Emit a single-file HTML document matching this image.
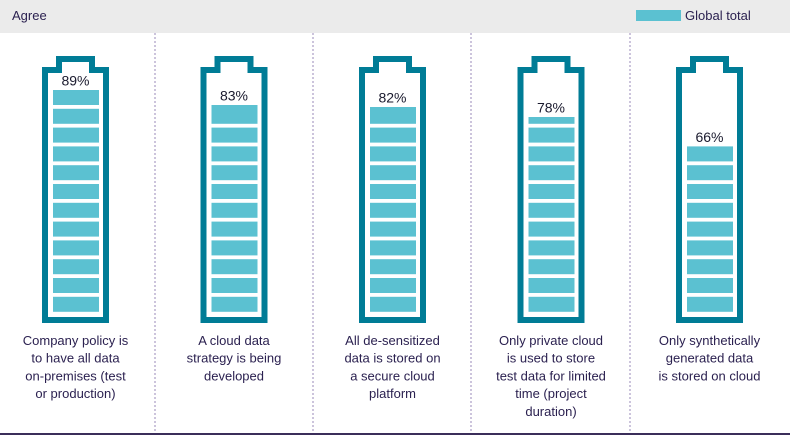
<!DOCTYPE html>
<html><head><meta charset="utf-8"><style>
html,body{margin:0;padding:0;background:#fff;}
body{width:790px;height:435px;overflow:hidden;position:relative;font-family:"Liberation Sans",sans-serif;}
</style></head><body>
<svg id="s" width="790" height="435" xmlns="http://www.w3.org/2000/svg" style="position:absolute;left:0;top:0">
<rect x="0" y="0" width="790" height="33" fill="#ebebeb"/>
<text x="12" y="20" font-size="13" fill="#2b2150" font-family="Liberation Sans, sans-serif">Agree</text>
<rect x="636" y="10" width="45" height="11" fill="#5bc1d1"/>
<text x="685" y="20" font-size="13" fill="#2b2150" font-family="Liberation Sans, sans-serif">Global total</text>
<rect x="0" y="433" width="790" height="2" fill="#3b2e5a"/>
</svg>
<script>
var s=document.getElementById('s'),h='';
var cs=[75.5,234,392.5,551,709.5],tops=[90,105,107,117,146.4],vals=['89%','83%','82%','78%','66%'];
var labels=[['Company policy is','to have all data','on-premises (test','or production)'],['A cloud data','strategy is being','developed'],['All de-sensitized','data is stored on','a secure cloud','platform'],['Only private cloud','is used to store','test data for limited','time (project','duration)'],['Only synthetically','generated data','is stored on cloud']];
[155,313,471,630].forEach(function(x){h+='<line x1="'+x+'" y1="33" x2="'+x+'" y2="433" stroke="#9a88b8" stroke-width="1" stroke-dasharray="2,2"/>';});
cs.forEach(function(cx,k){
 h+='<path d="M'+(cx-30.5)+',70 H'+(cx-16.5)+' V59 H'+(cx+16.5)+' V70 H'+(cx+30.5)+' V320 H'+(cx-30.5)+' Z" fill="none" stroke="#007c96" stroke-width="6" stroke-linejoin="miter"/>';
 var t=tops[k],first=true;
 for(var i=0;i<12;i++){var y=90+i*18.8,e=y+15;if(e<=t+0.5)continue;var y0=first?t:y;first=false;
  h+='<rect x="'+(cx-22.5)+'" y="'+y0+'" width="46" height="'+(e-y0)+'" fill="#5bc1d1"/>';}
 h+='<text x="'+cx+'" y="'+(t-4.5)+'" text-anchor="middle" font-size="14" fill="#1a1a2e" font-family="Liberation Sans, sans-serif">'+vals[k]+'</text>';
 labels[k].forEach(function(l,j){h+='<text x="'+cx+'" y="'+(345+j*17.7)+'" text-anchor="middle" font-size="13" fill="#2b2150" font-family="Liberation Sans, sans-serif">'+l+'</text>';});
});
s.insertAdjacentHTML('beforeend',h);
</script>
</body></html>
